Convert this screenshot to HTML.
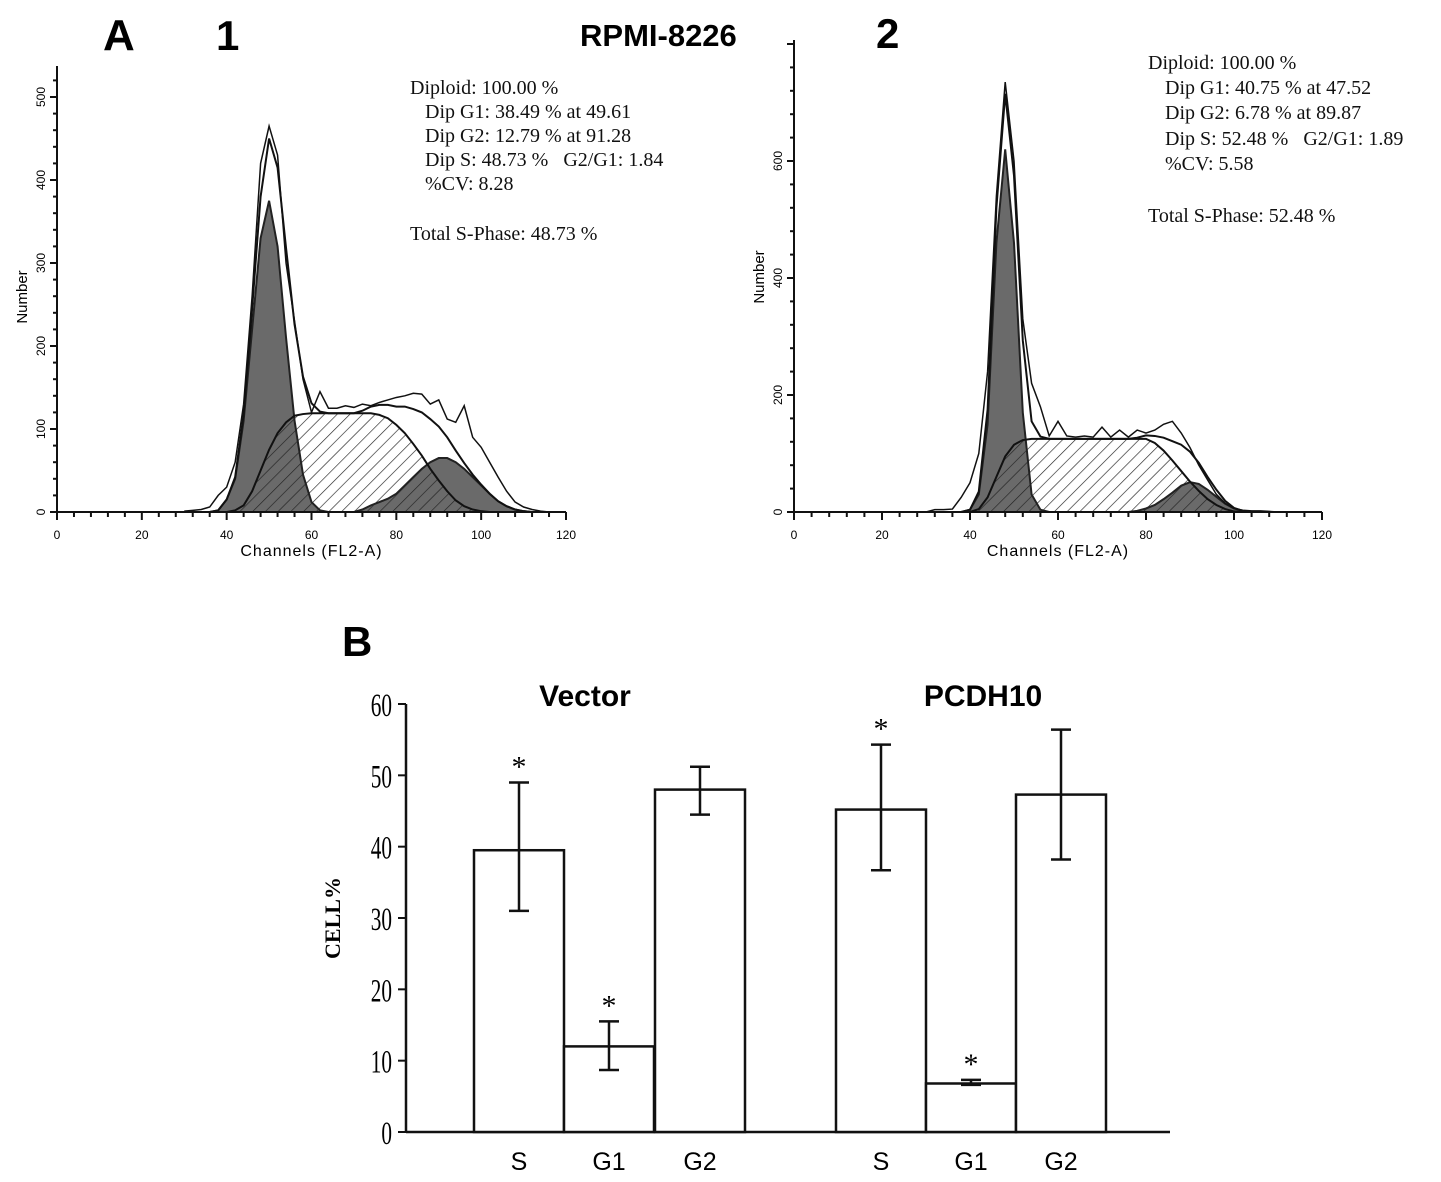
<!DOCTYPE html>
<html><head><meta charset="utf-8"><style>
body{margin:0;background:#fff;}
svg{display:block;}
.ser{font-family:"Liberation Serif",serif;}
.san{font-family:"Liberation Sans",sans-serif;}
</style></head><body>
<svg id="fig" width="1441" height="1182" viewBox="0 0 1441 1182" xmlns="http://www.w3.org/2000/svg">
<defs>
<pattern id="hatch" patternUnits="userSpaceOnUse" width="9" height="9" patternTransform="rotate(45)">
<line x1="0" y1="0" x2="0" y2="9" stroke="#222" stroke-width="1.3"/></pattern>
</defs>
<g class="san" font-weight="bold">
<text x="103" y="50" font-size="44">A</text>
<text x="216" y="50" font-size="42">1</text>
<text x="580" y="46" font-size="31">RPMI-8226</text>
<text x="876" y="48" font-size="42">2</text>
<text x="342" y="656" font-size="42">B</text>
<text x="585" y="706" font-size="30" text-anchor="middle">Vector</text>
<text x="983" y="706" font-size="30" text-anchor="middle">PCDH10</text>
</g>
<g class="ser" font-size="20" fill="#111">
<text x="410" y="94">Diploid: 100.00 %
<tspan x="425" dy="24">Dip G1: 38.49 % at 49.61</tspan>
<tspan x="425" dy="24">Dip G2: 12.79 % at 91.28</tspan>
<tspan x="425" dy="24" xml:space="preserve">Dip S: 48.73 %   G2/G1: 1.84</tspan>
<tspan x="425" dy="24">%CV: 8.28</tspan>
<tspan x="410" dy="50">Total S-Phase: 48.73 %</tspan></text>
<text x="1148" y="69">Diploid: 100.00 %
<tspan x="1165" dy="25">Dip G1: 40.75 % at 47.52</tspan>
<tspan x="1165" dy="25">Dip G2: 6.78 % at 89.87</tspan>
<tspan x="1165" dy="26" xml:space="preserve">Dip S: 52.48 %   G2/G1: 1.89</tspan>
<tspan x="1165" dy="25">%CV: 5.58</tspan>
<tspan x="1148" dy="52">Total S-Phase: 52.48 %</tspan></text>
</g>
<g id="h1"></g><g id="h2"></g><g id="bars"></g>
</svg>
<script>
const NS="http://www.w3.org/2000/svg";
// ---- Histogram 1 data ----
const h1Channels=[30,32,34,36,38,40,42,44,46,48,50,52,54,56,58,60,62,64,66,68,70,72,74,76,78,80,82,84,86,88,90,92,94,96,98,100,102,104,106,108,110,112,114,116];
const h1Raw=[1,2,3,6,20,30,60,130,260,420,465,430,300,230,160,120,145,125,125,128,126,130,128,132,135,138,140,143,142,130,135,112,108,128,90,78,60,42,25,12,6,3,1,0];
const h1G1=[0,0,0,0,2,15,40,110,220,330,375,320,210,110,45,12,2,0,0,0,0,0,0,0,0,0,0,0,0,0,0,0,0,0,0,0,0,0,0,0,0,0,0,0];
const h1S=[0,0,0,0,0,0,2,8,25,50,75,95,108,116,118,119,119,119,119,119,119,119,119,117,113,105,95,82,68,52,38,25,14,7,3,1,0,0,0,0,0,0,0,0];
const h1G2=[0,0,0,0,0,0,0,0,0,0,0,0,0,0,0,0,0,0,0,0,0,3,8,12,16,22,32,42,52,60,65,65,60,52,42,32,22,13,7,3,1,0,0,0];
const h1YTicks=[0,100,200,300,400,500];
// ---- Histogram 2 data ----
const h2Channels=[30,32,34,36,38,40,42,44,46,48,50,52,54,56,58,60,62,64,66,68,70,72,74,76,78,80,82,84,86,88,90,92,94,96,98,100,102,104,106,108,110];
const h2Raw=[0,4,4,5,25,50,100,240,540,735,600,330,220,180,130,155,130,128,130,128,145,128,140,128,140,135,140,150,155,135,110,80,55,30,15,6,3,2,2,1,0];
const h2G1=[0,0,0,0,0,4,30,150,460,620,460,170,30,4,0,0,0,0,0,0,0,0,0,0,0,0,0,0,0,0,0,0,0,0,0,0,0,0,0,0,0];
const h2S=[0,0,0,0,0,0,5,25,60,95,115,123,125,125,125,125,125,125,125,125,125,125,125,125,125,125,118,105,88,70,52,36,22,12,5,1,0,0,0,0,0];
const h2G2=[0,0,0,0,0,0,0,0,0,0,0,0,0,0,0,0,0,0,0,0,0,0,0,0,2,6,12,22,33,45,51,48,38,26,14,6,2,0,0,0,0];
const h2YTicks=[0,200,400,600];
const xTicks=[0,20,40,60,80,100,120];
// ---- Bar chart data ----
const barGroups=["Vector","PCDH10"];
const barCats=["S","G1","G2","S","G1","G2"];
const barValues=[39.5,12,48,45.2,6.8,47.3];
const barErrLow=[31,8.7,44.5,36.7,6.6,38.2];
const barErrHigh=[49,15.5,51.2,54.3,7.3,56.4];
const barStar=[true,true,false,true,true,false];
const barYTicks=[0,10,20,30,40,50,60];

function el(tag,attrs,parent){const e=document.createElementNS(NS,tag);for(const k in attrs)e.setAttribute(k,attrs[k]);parent.appendChild(e);return e;}

function hist(gId,ch,raw,g1,s,g2,yt,o){
  const g=document.getElementById(gId);
  const X=c=>o.x0+(c/120)*(o.x1-o.x0);
  const Y=v=>o.y0-v*o.ky;
  const area=(arr)=>{let d="M"+X(ch[0])+","+Y(0);
    for(let i=0;i<ch.length;i++)d+="L"+X(ch[i])+","+Y(arr[i]);
    d+="L"+X(ch[ch.length-1])+","+Y(0);return d+"Z";};
  const line=arr=>arr.map((v,i)=>(i?"L":"M")+X(ch[i])+","+Y(v)).join("");
  let p;
  p=el("path",{d:area(s),fill:"#fff",stroke:"none"},g);
  
  p=el("path",{d:area(g1),fill:"#6a6a6a",stroke:"#222","stroke-width":2},g);
  
  p=el("path",{d:area(g2),fill:"#6a6a6a",stroke:"#222","stroke-width":2},g);
  
  p=el("path",{d:area(s),fill:"url(#hatch)",stroke:"#111","stroke-width":2},g);
  
  const env=ch.map((c,i)=>g1[i]+s[i]+g2[i]);
  p=el("path",{d:line(env),fill:"none",stroke:"#111","stroke-width":2},g);
  
  p=el("path",{d:line(raw),fill:"none",stroke:"#111","stroke-width":1.5},g);
  
  p=el("line",{x1:o.x0,y1:o.y0,x2:o.x1,y2:o.y0,stroke:"#111","stroke-width":2},g);
  
  p=el("line",{x1:o.x0,y1:o.y0,x2:o.x0,y2:o.ytop,stroke:"#111","stroke-width":2},g);
  
  for(let c=0;c<=120;c+=4){el("line",{x1:X(c),y1:o.y0,x2:X(c),y2:o.y0+(c%20?5:8),stroke:"#111","stroke-width":2},g);}
  xTicks.forEach(t=>{const tx=el("text",{x:X(t),y:o.y0+27,"font-size":12,"text-anchor":"middle",class:"san"},g);tx.textContent=t;
    });
  const step=(yt[1]-yt[0])/5;
  for(let v=0;Y(v)>=o.ytop;v+=step){el("line",{x1:o.x0-(v%yt[1]?4:7),y1:Y(v),x2:o.x0,y2:Y(v),stroke:"#111","stroke-width":2},g);}
  yt.forEach(t=>{const tx=el("text",{x:0,y:0,"font-size":12,"text-anchor":"middle",class:"san",transform:`translate(${o.x0-12},${Y(t)}) rotate(-90)`},g);tx.textContent=t;
    });
  let t=el("text",{x:(o.x0+o.x1)/2,y:o.y0+44,"font-size":16,"text-anchor":"middle",class:"san","letter-spacing":"1"},g);t.textContent="Channels  (FL2-A)";
  
  t=el("text",{x:0,y:0,"font-size":15,"text-anchor":"middle",class:"san",transform:`translate(${o.x0-30},${o.ny}) rotate(-90)`},g);t.textContent="Number";
  
}
hist("h1",h1Channels,h1Raw,h1G1,h1S,h1G2,h1YTicks,{x0:57,x1:566,y0:512,ky:0.83,ytop:66,ny:297});
hist("h2",h2Channels,h2Raw,h2G1,h2S,h2G2,h2YTicks,{x0:794,x1:1322,y0:512,ky:0.585,ytop:40,ny:277});

(function(){
  const g=document.getElementById("bars");
  const ax=406,y0=1132,ky=(1132-704)/60;
  const Y=v=>y0-v*ky;
  const lefts=[474,564,655,836,926,1016],w=90;
  let p=el("line",{x1:ax,y1:y0,x2:1170,y2:y0,stroke:"#111","stroke-width":2.5},g);
  
  p=el("line",{x1:ax,y1:y0,x2:ax,y2:704,stroke:"#111","stroke-width":2.5},g);
  
  barYTicks.forEach(t=>{el("line",{x1:ax-8,y1:Y(t),x2:ax,y2:Y(t),stroke:"#111","stroke-width":2},g);
    const tx=el("text",{x:0,y:0,"font-size":25,"text-anchor":"end",class:"ser",transform:`translate(${ax-14},${Y(t)+12}) scale(0.85,1.3)`},g);tx.textContent=t;
    });
  let t=el("text",{x:0,y:0,"font-size":22,"font-weight":"bold","text-anchor":"middle",class:"ser",transform:"translate(340,918) rotate(-90)"},g);t.textContent="CELL%";
  
  barValues.forEach((v,i)=>{
    const x=lefts[i],cx=x+w/2;
    const r=el("rect",{x:x,y:Y(v),width:w,height:y0-Y(v),fill:"#fff",stroke:"#111","stroke-width":2.5},g);
    
    
    const e=el("path",{d:`M${cx},${Y(barErrLow[i])}V${Y(barErrHigh[i])}M${cx-10},${Y(barErrLow[i])}h20M${cx-10},${Y(barErrHigh[i])}h20`,stroke:"#111","stroke-width":2.5,fill:"none"},g);
    
    if(barStar[i]){const s=el("text",{x:cx,y:Y(barErrHigh[i])-6,"font-size":30,"text-anchor":"middle",class:"ser"},g);s.textContent="*";
      }
    const l=el("text",{x:cx,y:1170,"font-size":25,"text-anchor":"middle",class:"san"},g);l.textContent=barCats[i];
    
  });
})();
</script>
</body></html>
